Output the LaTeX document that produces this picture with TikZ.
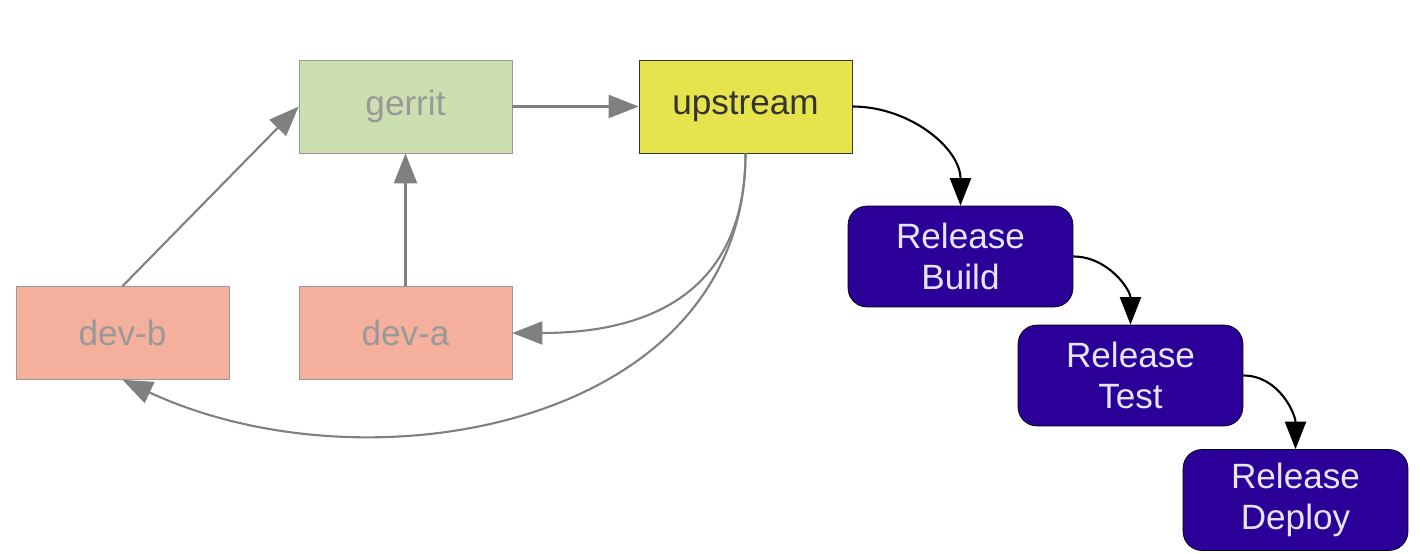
\documentclass[tikz,border=0pt]{standalone}
\usepackage{fontspec}
\setmainfont{Liberation Sans}
\usetikzlibrary{arrows.meta,positioning}

\definecolor{gerritgreen}{HTML}{CCDFB1}
\definecolor{upyellow}{HTML}{E6E44C}
\definecolor{devsalmon}{HTML}{F4B09C}
\definecolor{releaseblue}{HTML}{2A0099}
\definecolor{linegray}{HTML}{808080}
\definecolor{textgray}{HTML}{999999}

\tikzset{
  repo/.style={rectangle, minimum width=4.26cm, minimum height=1.86cm,
    font=\fontsize{20}{23}\selectfont},
  release/.style={rectangle, rounded corners=0.38cm, draw=black, fill=releaseblue,
    text=white!90!blue, align=center, minimum width=4.5cm, minimum height=2.02cm,
    font=\fontsize{20}{23}\selectfont},
  push/.style={linegray, line width=1.2pt, -{Triangle[length=0.6cm,width=0.46cm]}},
  stage/.style={black, line width=1.2pt, -{Triangle[length=0.55cm,width=0.42cm]}}
}

\begin{document}
\begin{tikzpicture}[x=0.02cm,y=-0.02cm]
    \useasboundingbox (0,0) rectangle (1421,554);

    % draw repositories
    \node[repo, draw=textgray, fill=gerritgreen, text=textgray] (gerrit) at (405.5,106.5) {gerrit};
    \node[repo, draw=black!80, fill=upyellow, text=black!80] (upstream) at (745.5,106.5) {upstream};
    \node[repo, draw=textgray, fill=devsalmon, text=textgray] (devb) at (122.5,333) {dev-b};
    \node[repo, draw=textgray, fill=devsalmon, text=textgray] (deva) at (405.5,333) {dev-a};

    % draw release stages
    \node[release] (build) at (960.5,256.5) {Release\\Build};
    \node[release] (test) at (1130.5,375.5) {Release\\Test};
    \node[release] (deploy) at (1295.5,500) {Release\\Deploy};

    % draw pushes and fetches
    \draw[push] (gerrit) -- (upstream);
    \draw[push] (devb.north) -- (gerrit.west);
    \draw[push] (deva) -- (gerrit);
    \draw[push] (upstream.south) to[out=-90,in=0,looseness=1.2] (deva.east);
    \draw[push] (upstream.south) to[out=-90,in=-25,looseness=1.05] (devb.south);

    % draw release pipeline
    \draw[stage] (upstream.east) to[out=0,in=90] (build.north);
    \draw[stage] (build.east) to[out=0,in=90] (test.north);
    \draw[stage] (test.east) to[out=0,in=90] (deploy.north);
\end{tikzpicture}
\end{document}
